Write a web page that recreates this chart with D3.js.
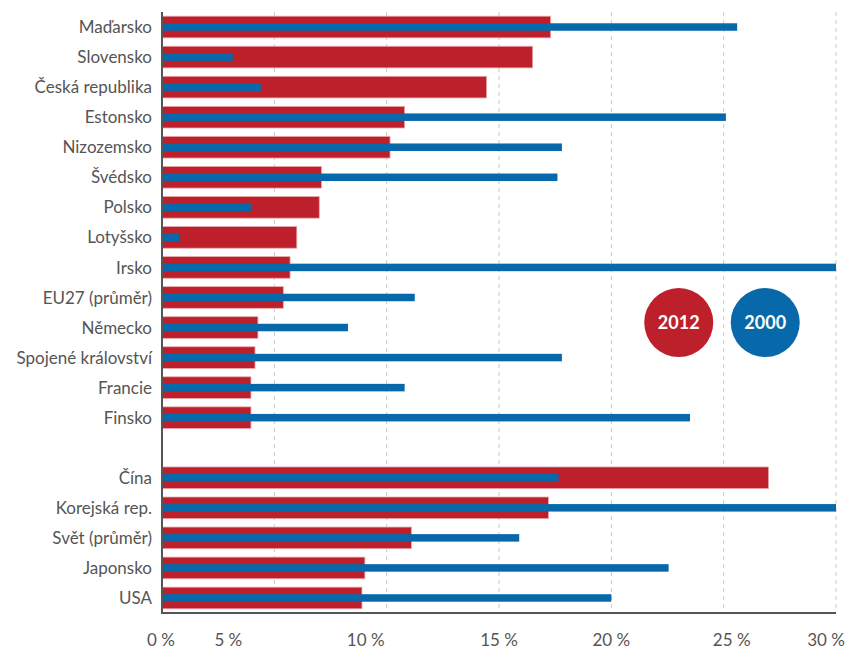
<!DOCTYPE html>
<html>
<head>
<meta charset="utf-8">
<script src="https://cdn.jsdelivr.net/npm/d3@7"></script>
<style>
  body { margin: 0; background: #fff; }
  text { font-family: "Lato", "Noto Sans", sans-serif; fill: #555; }
</style>
</head>
<body>
<div id="chart"></div>
<script>
/* DATA */
const categories = [
  "Maďarsko", "Slovensko", "Česká republika", "Estonsko", "Nizozemsko",
  "Švédsko", "Polsko", "Lotyšsko", "Irsko", "EU27 (průměr)", "Německo",
  "Spojené království", "Francie", "Finsko", "",
  "Čína", "Korejská rep.", "Svět (průměr)", "Japonsko", "USA"
];
const values2012 = [17.3, 16.5, 14.45, 10.8, 10.15, 7.1, 7.0, 6.0, 5.7, 5.4, 4.27, 4.14, 3.96, 3.96, null,
  27.0, 17.2, 11.1, 9.03, 8.9];
const values2000 = [25.6, 3.15, 4.4, 25.1, 17.8, 17.6, 3.96, 0.76, 30, 11.25, 8.28, 17.8, 10.8, 23.5, null,
  17.65, 30, 15.9, 22.55, 20.0];
const ticks = [0, 5, 10, 15, 20, 25, 30];
const tickLabels = ["0 %", "5 %", "10 %", "15 %", "20 %", "25 %", "30 %"];
const tickNudge = [-1, -46, -21, 0, 0, 8, -10]; // labels in the original sit off their ticks
const legend = [{ year: "2012", color: "#bd1f2b", at: 23 }, { year: "2000", color: "#0769a9", at: 26.85 }];

/* CONSTANTS */
const width = 847,
  height = 650,
  margin = { top: 12, right: 11, bottom: 37, left: 162 },
  red = "#bd1f2b",
  blue = "#0769a9";

const rows = categories.map((c, i) => ({ key: c || "gap", name: c, v12: values2012[i], v00: values2000[i] }));

const svg = d3.select("#chart").append("svg")
  .attr("width", width)
  .attr("height", height);

const xScale = d3.scaleLinear()
  .domain([0, 30])
  .range([margin.left, width - margin.right]);

const yScale = d3.scaleBand()
  .domain(rows.map(d => d.key))
  .range([margin.top, height - margin.bottom])
  .paddingInner(0.28)
  .paddingOuter(0.14);

// gridlines
svg.append("g")
  .selectAll("line")
  .data(ticks.slice(1))
  .join("line")
  .attr("x1", d => xScale(d)).attr("x2", d => xScale(d))
  .attr("y1", margin.top).attr("y2", height - margin.bottom)
  .attr("stroke", "#c8c8c8")
  .attr("stroke-dasharray", "4,4");

const data = rows.filter(d => d.name);

// 2012 bars
svg.append("g")
  .selectAll("rect")
  .data(data)
  .join("rect")
  .attr("x", xScale(0))
  .attr("y", d => yScale(d.key))
  .attr("width", d => xScale(d.v12) - xScale(0))
  .attr("height", yScale.bandwidth())
  .attr("fill", red)
  .attr("stroke", "#e9a9ad")
  .attr("stroke-width", 0.8);

// 2000 bars
const thin = 7.5;
svg.append("g")
  .selectAll("rect")
  .data(data)
  .join("rect")
  .attr("x", xScale(0))
  .attr("y", d => yScale(d.key) + yScale.bandwidth() / 2 - thin / 2)
  .attr("width", d => xScale(d.v00) - xScale(0))
  .attr("height", thin)
  .attr("fill", blue);

// category labels
svg.append("g")
  .selectAll("text")
  .data(data)
  .join("text")
  .attr("x", margin.left - 10)
  .attr("y", d => yScale(d.key) + yScale.bandwidth() / 2)
  .attr("dy", "0.36em")
  .attr("text-anchor", "end")
  .attr("font-size", 17)
  .text(d => d.name);

// axes lines
svg.append("line")
  .attr("x1", margin.left).attr("x2", margin.left)
  .attr("y1", margin.top).attr("y2", height - margin.bottom + 1)
  .attr("stroke", "#555").attr("stroke-width", 2);
svg.append("line")
  .attr("x1", margin.left - 1).attr("x2", xScale(30))
  .attr("y1", height - margin.bottom).attr("y2", height - margin.bottom)
  .attr("stroke", "#555").attr("stroke-width", 2);

// x tick labels
svg.append("g")
  .selectAll("text")
  .data(ticks)
  .join("text")
  .attr("x", (d, i) => xScale(d) + tickNudge[i])
  .attr("y", height - 4)
  .attr("text-anchor", "middle")
  .attr("font-size", 17)
  .text((d, i) => tickLabels[i]);

// legend circles
const lg = svg.append("g")
  .selectAll("g")
  .data(legend)
  .join("g")
  .attr("transform", d => `translate(${xScale(d.at)},${yScale("Německo") + yScale.bandwidth() / 2 - 5})`);
lg.append("circle").attr("r", 34.5).attr("fill", d => d.color);
lg.append("text")
  .attr("text-anchor", "middle")
  .attr("dy", "0.36em")
  .attr("font-size", 18)
  .attr("font-weight", "bold")
  .style("fill", "#fff")
  .text(d => d.year);
</script>
</body>
</html>
